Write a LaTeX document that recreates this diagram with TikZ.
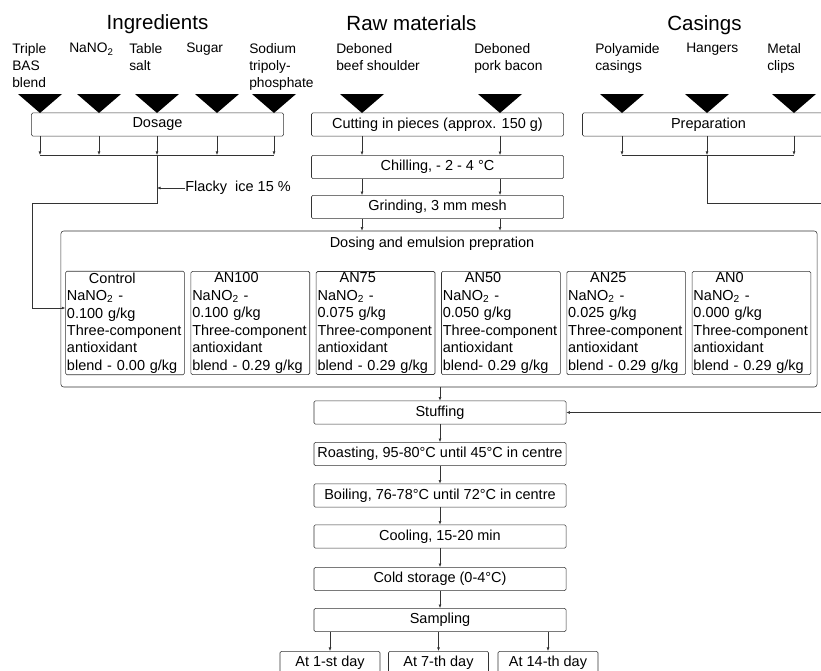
\documentclass[tikz,border=0pt]{standalone}
\usepackage{fontspec}
\setmainfont{Liberation Sans}
\usepackage{tikz}
\usetikzlibrary{calc}
\usetikzlibrary{arrows.meta}
\tikzstyle{stage} = [rectangle, 
rounded corners=1pt, minimum width=6.3cm, minimum height=0.58cm, inner sep=1pt, text centered, draw=black!80, font=\fontsize{10.3}{12.4}\selectfont]
\tikzstyle{sample} = [rectangle, rounded corners=1pt, minimum height=2.55cm, text width=2.9cm, inner sep=1pt, align=left, draw=black!80, font=\fontsize{10.3}{12.4}\selectfont]
\tikzstyle{day} = [rectangle, rounded corners=1pt, anchor=north, minimum width=2.5cm, minimum height=0.55cm, inner sep=1pt, text centered, draw=black!80, font=\fontsize{10.3}{12.4}\selectfont]
\tikzstyle{header} = [anchor=base, font=\fontsize{14.6}{17}\selectfont]
\tikzstyle{input} = [anchor=north west, align=left, inner sep=0pt, font=\fontsize{9.8}{12}\selectfont]
\tikzstyle{arrow} = [draw=black!80, -{Latex[length=2.5pt,width=2pt]}]
\tikzstyle{line} = [draw=black!80]

\begin{document}
\begin{tikzpicture}[x=0.025cm, y=-0.025cm]
						\useasboundingbox (0,0) rectangle (821,670);
						\clip (0,0) rectangle (821,670);
						% headings
						\node (ingr) at (157.5,30) [header] {Ingredients};
						\node (raw) at (411.5,31) [header] {Raw materials};
						\node (cas) at (704.5,31) [header] {Casings};
						% inputs
						\node (bas) at (12,43) [input] {Triple\\BAS\\blend};
						\node (nitrite) at (69,43) [input] {NaNO\textsubscript{2}};
						\node (salt) at (129,43) [input] {Table\\salt};
						\node (sugar) at (186,43) [input] {Sugar};
						\node (phos) at (249,43) [input] {Sodium\\tripoly-\\phosphate};
						\node (beef) at (336,43) [input] {Deboned\\beef shoulder};
						\node (pork) at (474,43) [input] {Deboned\\pork bacon};
						\node (poly) at (595,43) [input] {Polyamide\\casings};
						\node (hang) at (686,43) [input] {Hangers};
						\node (clip) at (767,43) [input] {Metal\\clips};
						% funnels
						\coordinate (i1) at (40,113);
						\coordinate (i2) at (99,113);
						\coordinate (i3) at (157,113);
						\coordinate (i4) at (217,113);
						\coordinate (i5) at (274,113);
						\coordinate (r1) at (362,113);
						\coordinate (r2) at (500,113);
						\coordinate (c1) at (622,113);
						\coordinate (c2) at (707,113);
						\coordinate (c3) at (794,113);
						\fill (i1) -- ++(-22,-19) -- ++(44,0) -- cycle;
						\fill (i2) -- ++(-22,-19) -- ++(44,0) -- cycle;
						\fill (i3) -- ++(-22,-19) -- ++(44,0) -- cycle;
						\fill (i4) -- ++(-22,-19) -- ++(44,0) -- cycle;
						\fill (i5) -- ++(-22,-19) -- ++(44,0) -- cycle;
						\fill (r1) -- ++(-22,-19) -- ++(44,0) -- cycle;
						\fill (r2) -- ++(-22,-19) -- ++(44,0) -- cycle;
						\fill (c1) -- ++(-22,-19) -- ++(44,0) -- cycle;
						\fill (c2) -- ++(-22,-19) -- ++(44,0) -- cycle;
						\fill (c3) -- ++(-22,-19) -- ++(44,0) -- cycle;
						% first steps
						\node (dos) at (157.5,124.5) [stage] {Dosage};
						\node (cut) at (437.5,124.5) [stage] {Cutting in pieces (approx. 150 g)};
						\node (prep) at (708.5,124.5) [stage] {Preparation};
						\node (chill) at (437.5,167) [stage] {Chilling, - 2 - 4 °C};
						\node (grind) at (437.5,207) [stage] {Grinding, 3 mm mesh};
						% emulsion
						\node (mix) at (439,309) [rectangle, rounded corners=2pt, draw=black!80, minimum width=18.9cm, minimum height=3.9cm] {};
						\node (mixtitle) at (432,247) [anchor=base, font=\fontsize{10.3}{12.4}\selectfont] {Dosing and emulsion prepration};
						\node (ctrl) at (125,323) [sample] {\hspace*{0.55cm}Control\\NaNO\textsubscript{2} -\\0.100 g/kg\\Three-component\\antioxidant\\blend - 0.00 g/kg};
						\node (an100) at (250.3,323) [sample] {\hspace*{0.55cm}AN100\\NaNO\textsubscript{2} -\\0.100 g/kg\\Three-component\\antioxidant\\blend - 0.29 g/kg};
						\node (an75) at (375.6,323) [sample] {\hspace*{0.55cm}AN75\\NaNO\textsubscript{2} -\\0.075 g/kg\\Three-component\\antioxidant\\blend - 0.29 g/kg};
						\node (an50) at (500.9,323) [sample] {\hspace*{0.55cm}AN50\\NaNO\textsubscript{2} -\\0.050 g/kg\\Three-component\\antioxidant\\blend- 0.29 g/kg};
						\node (an25) at (626.2,323) [sample] {\hspace*{0.55cm}AN25\\NaNO\textsubscript{2} -\\0.025 g/kg\\Three-component\\antioxidant\\blend - 0.29 g/kg};
						\node (an0) at (751.5,323) [sample] {\hspace*{0.55cm}AN0\\NaNO\textsubscript{2} -\\0.000 g/kg\\Three-component\\antioxidant\\blend - 0.29 g/kg};
						% processing
						\node (stuff) at (440,412.5) [stage] {Stuffing};
						\node (roast) at (440,454) [stage] {Roasting, 95-80°C until 45°C in centre};
						\node (boil) at (440,495.5) [stage] {Boiling, 76-78°C until 72°C in centre};
						\node (cool) at (440,536.5) [stage] {Cooling, 15-20 min};
						\node (cold) at (440,579) [stage] {Cold storage (0-4°C)};
						\node (samp) at (440,620) [stage] {Sampling};
						\node (d1) at (330,651) [day] {At 1-st day};
						\node (d7) at (438.5,651) [day] {At 7-th day};
						\node (d14) at (548,651) [day] {At 14-th day};
						% ingredient lines
						\coordinate (dosbar) at (157,155);
						\coordinate (icebend) at (32,203);
						\draw[arrow] (dos.south -| i1) -- (dosbar -| i1);
						\draw[arrow] (dos.south -| i2) -- (dosbar -| i2);
						\draw[arrow] (dos.south -| i3) -- (dosbar -| i3);
						\draw[arrow] (dos.south -| i4) -- (dosbar -| i4);
						\draw[arrow] (dos.south -| i5) -- (dosbar -| i5);
						\draw[line] (dosbar -| i1) -- (dosbar -| i5);
						\draw[arrow] (dosbar) |- (icebend) |- ($(ctrl.west)+(0,-15)$);
						\node (ice) at (185,188) [input, anchor=west, font=\fontsize{10.3}{12.4}\selectfont] {Flacky\ \ ice 15 \%};
						\draw[arrow] (ice.west) -- (ice.west -| dosbar);
						% raw material lines
						\draw[arrow] (cut.south -| r1) -- (chill.north -| r1);
						\draw[arrow] (cut.south -| r2) -- (chill.north -| r2);
						\draw[arrow] (chill.south -| r1) -- (grind.north -| r1);
						\draw[arrow] (chill.south -| r2) -- (grind.north -| r2);
						\draw[arrow] (grind.south -| r1) -- (mix.north -| r1);
						\draw[arrow] (grind.south -| r2) -- (mix.north -| r2);
						% casing lines
						\coordinate (prepbar) at (707,155);
						\coordinate (side) at (840,203);
						\draw[arrow] (prep.south -| c1) -- (prepbar -| c1);
						\draw[arrow] (prep.south -| c2) -- (prepbar -| c2);
						\draw[arrow] (prep.south -| c3) -- (prepbar -| c3);
						\draw[line] (prepbar -| c1) -- (prepbar -| c3);
						\draw[arrow] (prepbar) |- (side) |- (stuff.east);
						% process lines
						\draw[arrow] (mix.south -| stuff) -- (stuff.north);
						\draw[arrow] (stuff) -- (roast);
						\draw[arrow] (roast) -- (boil);
						\draw[arrow] (boil) -- (cool);
						\draw[arrow] (cool) -- (cold);
						\draw[arrow] (cold) -- (samp);
						\draw[arrow] (samp.south -| d1) -- (d1);
						\draw[arrow] (samp.south -| d7) -- (d7);
						\draw[arrow] (samp.south -| d14) -- (d14);
					\end{tikzpicture}
\end{document}
